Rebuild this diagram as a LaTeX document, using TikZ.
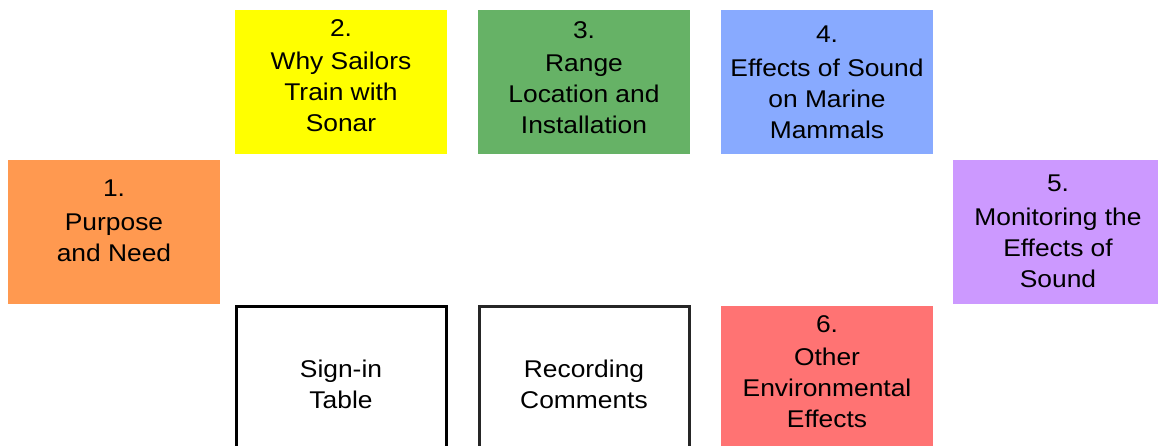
\documentclass[tikz,border=0pt]{standalone}
\usepackage{fontspec}
\setmainfont{Liberation Sans}[FakeStretch=1.09]
\definecolor{corange}{HTML}{FF9950}
\definecolor{cyellow}{HTML}{FFFF00}
\definecolor{cgreen}{HTML}{66B266}
\definecolor{cblue}{HTML}{88AAFF}
\definecolor{cpurple}{HTML}{CC99FF}
\definecolor{cred}{HTML}{FF7373}
\tikzset{
  tile/.style={rectangle, draw=none, inner sep=0pt, minimum width=212pt, minimum height=144pt},
  framed/.style={rectangle, draw=#1, line width=3pt, inner sep=0pt, minimum width=210pt, minimum height=144pt},
  lbl/.style={inner sep=0pt, align=center, anchor=north, font=\fontsize{24.2}{31}\selectfont}
}
\begin{document}
\begin{tikzpicture}[x=1pt,y=-1pt]
\useasboundingbox (0,0) rectangle (1158,445);
\clip (0,0) rectangle (1158,445);
\fill[white] (0,0) rectangle (1158,445);
% coloured tiles
\node (b1) [tile, fill=corange] at (114,232) {};
\node (b2) [tile, fill=cyellow] at (341,82) {};
\node (b3) [tile, fill=cgreen] at (584,82) {};
\node (b4) [tile, fill=cblue] at (827,82) {};
\node (b5) [tile, fill=cpurple] at (1059,232) {};
\node (b6) [tile, fill=cred] at (827,378) {};
% framed boxes
\node (b7) [framed=black] at (341.5,378.5) {};
\node (b8) [framed=black!85] at (584,378.5) {};
% labels
\node (t1) [lbl] at (114,180) {1.\\[2.5pt]Purpose\\and Need};
\node (t2) [lbl] at (341,19) {2.\\[2.5pt]Why Sailors\\Train with\\Sonar};
\node (t3) [lbl] at (584,21) {3.\\[2.5pt]Range\\Location and\\Installation};
\node (t4) [lbl] at (827,26) {4.\\[2.5pt]Effects of Sound\\on Marine\\Mammals};
\node (t5) [lbl] at (1058,175) {5.\\[2.5pt]Monitoring the\\Effects of\\Sound};
\node (t6) [lbl] at (827,315) {6.\\[2.5pt]Other\\Environmental\\Effects};
\node (t7) [lbl] at (341,360) {Sign-in\\Table};
\node (t8) [lbl] at (584,360) {Recording\\Comments};
\end{tikzpicture}
\end{document}
